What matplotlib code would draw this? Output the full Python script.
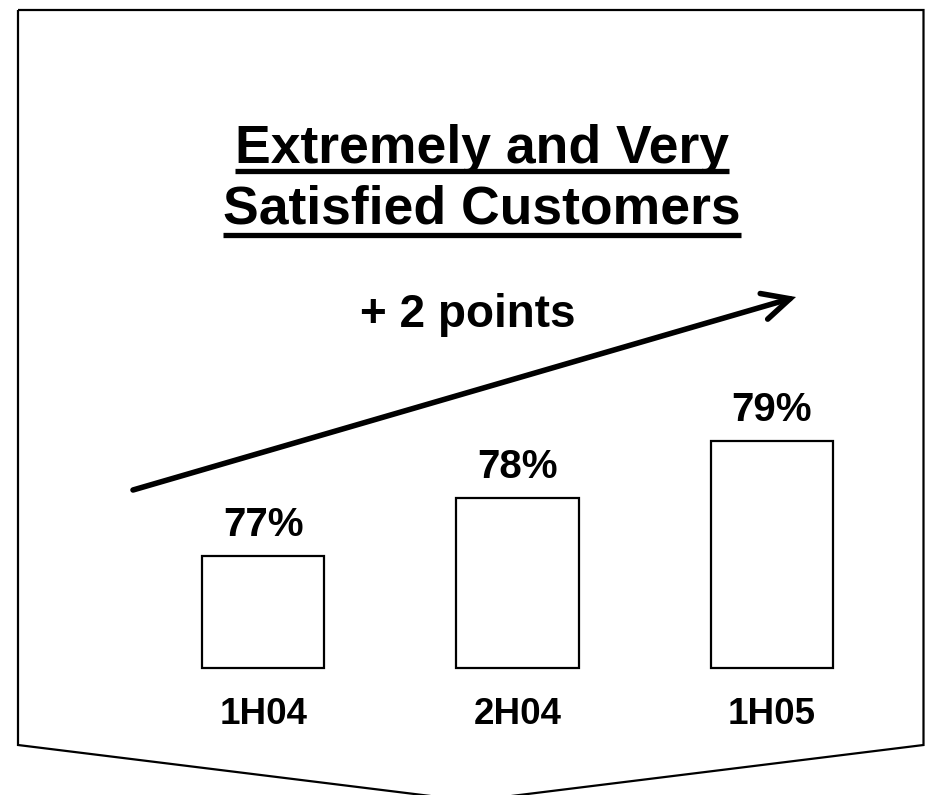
import matplotlib
matplotlib.use('Agg')
import matplotlib.pyplot as plt
from matplotlib.patches import Polygon, FancyArrowPatch

plt.rcParams['font.family'] = ['Liberation Sans', 'DejaVu Sans']
plt.rcParams['font.weight'] = 'bold'

# data
periods = ['1H04', '2H04', '1H05']
satisfied = [77, 78, 79]
title_lines = ['Extremely and Very', 'Satisfied Customers']
change_label = '+ 2 points'

W, H = 926, 795
fig = plt.figure(figsize=(W / 100, H / 100), dpi=100)

# background layer in pixel coords: frame, title, trend arrow
bg = fig.add_axes([0, 0, 1, 1])
bg.set_xlim(0, W)
bg.set_ylim(H, 0)
bg.axis('off')

frame = Polygon([(18, 10), (923.5, 10), (923.5, 745), (471, 801), (18, 745)],
                closed=True, fill=False, lw=1.6, ec='black', joinstyle='miter')
bg.add_patch(frame)

titles = []
for line, yb in zip(title_lines, [163, 224]):
    titles.append(bg.text(482, yb, line, ha='center', va='baseline',
                          fontsize=38.5, fontweight='bold'))

bg.text(468, 327, change_label, ha='center', va='baseline',
        fontsize=33, fontweight='bold')

arrow = FancyArrowPatch((133, 490), (796, 297),
                        arrowstyle='->,head_length=0.65,head_width=0.32',
                        mutation_scale=30, lw=4, color='black',
                        shrinkA=0, shrinkB=0, capstyle='round', joinstyle='miter')
bg.add_patch(arrow)

# bars
base = 75.05
ax = fig.add_axes([136 / W, (H - 668) / H, 763 / W, 300 / H])
ax.patch.set_alpha(0)
x = list(range(len(periods)))
ax.bar(x, [v - base for v in satisfied], bottom=base, width=0.48,
       color='white', edgecolor='black', lw=1.6, clip_on=False)
ax.set_ylim(base, base + 300 / 57.5)
ax.set_xlim(-0.5, 2.5)
for xi, v in zip(x, satisfied):
    ax.annotate(f'{v}%', (xi, v), xytext=(0, 14.4), textcoords='offset points',
                ha='center', va='baseline', fontsize=29, fontweight='bold')
ax.set_xticks(x, periods, fontsize=26.5, fontweight='bold')
ax.tick_params(axis='x', length=0, pad=21)
ax.set_yticks([])
for s in ax.spines.values():
    s.set_visible(False)

# underline the title
fig.canvas.draw()
inv = bg.transData.inverted()
for t, off in zip(titles, [8, 11]):
    bb = t.get_window_extent()
    x0, _ = inv.transform((bb.x0, bb.y0))
    x1, _ = inv.transform((bb.x1, bb.y0))
    yb = t.get_position()[1] + off
    bg.plot([x0, x1], [yb, yb], color='black', lw=3.8, solid_capstyle='butt')

fig.savefig('out.png', dpi=100)
